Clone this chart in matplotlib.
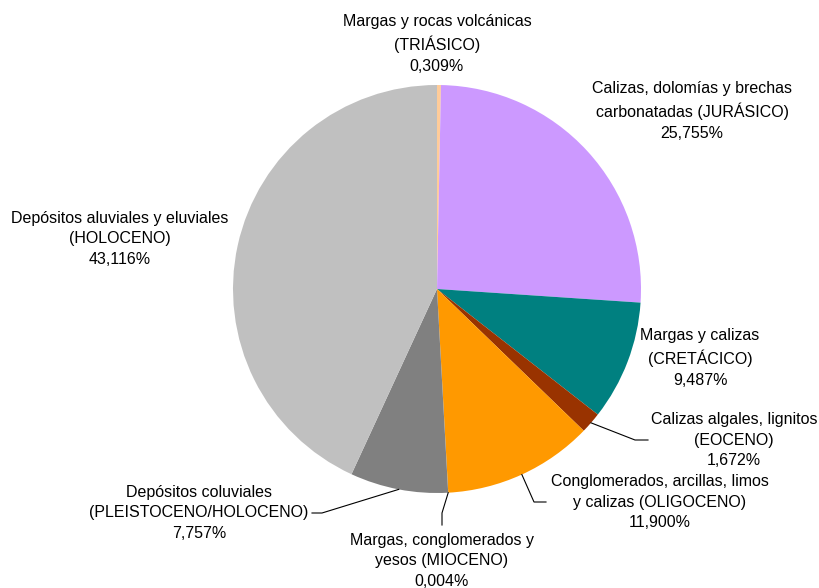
import numpy as np
import matplotlib
matplotlib.use('Agg')
import matplotlib.pyplot as plt

plt.rcParams['font.family'] = ['Liberation Sans', 'DejaVu Sans']

# data, clockwise from the top
labels = ['Margas y rocas volcánicas\n(TRIÁSICO)',
          'Calizas, dolomías y brechas\ncarbonatadas (JURÁSICO)',
          'Margas y calizas\n(CRETÁCICO)',
          'Calizas algales, lignitos\n(EOCENO)',
          'Conglomerados, arcillas, limos\ny calizas (OLIGOCENO)',
          'Margas, conglomerados y\nyesos (MIOCENO)',
          'Depósitos coluviales\n(PLEISTOCENO/HOLOCENO)',
          'Depósitos aluviales y eluviales\n(HOLOCENO)']
values = [0.309, 25.755, 9.487, 1.672, 11.900, 0.004, 7.757, 43.116]
colors = ['#FFCC99', '#CC99FF', '#008080', '#993300', '#FF9900', '#FFFF99',
          '#808080', '#C0C0C0']

W, H = 819, 588
cx, cy, R = 437, 289, 204   # pixel layout, y measured from top

# label centres (pixels from top-left) and optional leader elbow/end
label_pos = [(437, 44), (692, 111), (700, 358), (734, 440),
             (660, 502), (442, 561), (199, 513), (120, 239)]
leaders = {3: [(635, 440), (648, 440)],
           4: [(534, 502), (546, 502)],
           5: [(442, 513), (442, 525)],
           6: [(322, 513), (312, 513)]}

fig = plt.figure(figsize=(W / 100, H / 100), dpi=100)
ax = fig.add_axes([0, 0, 1, 1])
ax.pie(values, colors=colors, startangle=90, counterclock=False,
       center=(cx, H - cy), radius=R, wedgeprops=dict(linewidth=0))
ax.set_xlim(0, W)
ax.set_ylim(0, H)
ax.set_aspect('equal')
ax.axis('off')

total = sum(values)
start = 0.0
for i, (lab, v) in enumerate(zip(labels, values)):
    mid = (start + v / 2) / total * 2 * np.pi
    start += v
    pct = f'{v:.3f}%'.replace('.', ',')
    x, y = label_pos[i]
    ax.text(x, H - y, f'{lab}\n{pct}', ha='center', va='center',
            multialignment='center', fontsize=11.5, linespacing=1.45,
            color='black')
    if i in leaders:
        px = cx + R * np.sin(mid)
        py = cy - R * np.cos(mid)
        pts = [(px, py)] + leaders[i]
        ax.plot([p[0] for p in pts], [H - p[1] for p in pts],
                color='black', lw=0.8)

fig.savefig('out.png', dpi=100)
